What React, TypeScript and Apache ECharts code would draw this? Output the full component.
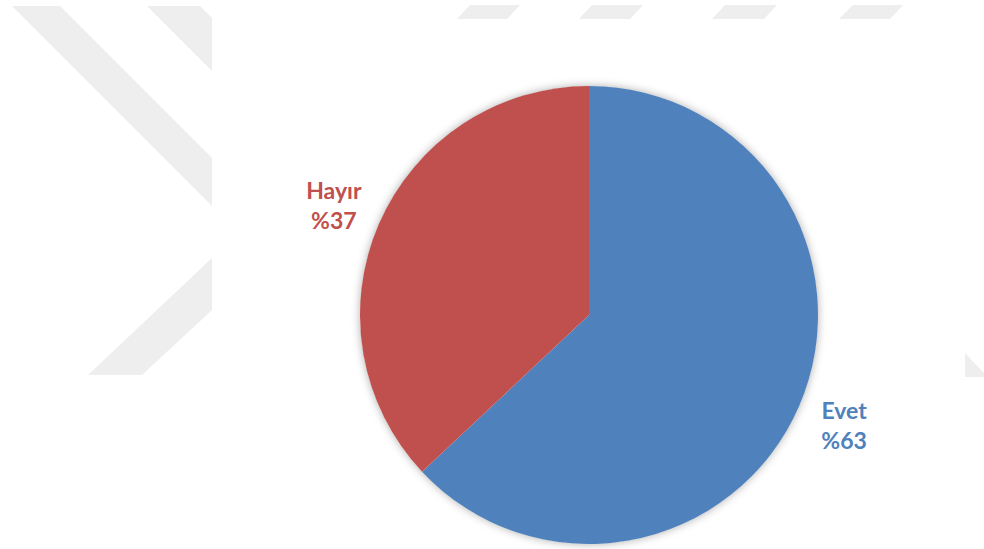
import React, { useEffect, useRef } from "react";
import * as echarts from "echarts";

const categories = ["Evet", "Hayır"];
const values = [63, 37];
const percentLabels = ["%63", "%37"];
const colors = ["#4F81BD", "#C0504D"];

const CX = 589;
const CY = 315;
const R = 229;
const LABEL_R = 278;

const WM = "#eeeeee";
const watermark: number[][][] = [
  [[12, 6], [60, 6], [212, 158], [212, 206]],
  [[147, 6], [200, 6], [212, 18], [212, 71]],
  [[88, 375], [142, 375], [212, 310], [212, 258]],
  [[470, 5], [520, 5], [507, 19], [457, 19]],
  [[592, 5], [643, 5], [630, 19], [579, 19]],
  [[725, 5], [777, 5], [764, 19], [712, 19]],
  [[853, 5], [903, 5], [890, 19], [839, 19]],
  [[965, 353], [984, 373], [984, 377], [965, 377]],
];

function labelPos(idx: number) {
  const total = values.reduce((a, b) => a + b, 0);
  let before = 0;
  for (let i = 0; i < idx; i++) before += values[i];
  const midFrac = (before + values[idx] / 2) / total;
  const ang = (90 - midFrac * 360) * (Math.PI / 180);
  return { x: CX + LABEL_R * Math.cos(ang), y: CY - LABEL_R * Math.sin(ang) };
}

export default function App() {
  const ref = useRef<HTMLDivElement>(null);
  useEffect(() => {
    if (!ref.current) return;
    const chart = echarts.init(ref.current, null, { renderer: "svg" });
    const graphics: any[] = watermark.map((pts) => ({
      type: "polygon",
      z: 0,
      silent: true,
      shape: { points: pts },
      style: { fill: WM },
    }));
    graphics.push({
      type: "rect",
      z: 1,
      silent: true,
      shape: { x: 212, y: 19, width: 753, height: 530 },
      style: { fill: "#ffffff" },
    });
    graphics.push({
      type: "circle",
      z: 1,
      silent: true,
      shape: { cx: CX, cy: CY, r: R - 0.5 },
      style: { fill: "#ffffff", shadowBlur: 10, shadowColor: "rgba(0,0,0,0.35)" },
    });
    chart.setOption({
      animation: false,
      backgroundColor: "#ffffff",
      graphic: { elements: graphics },
      series: [
        {
          type: "pie",
          z: 5,
          center: [CX, CY],
          radius: R,
          startAngle: 90,
          clockwise: true,
          silent: true,
          itemStyle: { borderWidth: 0 },
          label: {
            show: true,
            position: "outside",
            fontFamily: "Lato, 'Liberation Sans', sans-serif",
            fontWeight: "bold",
            fontSize: 23,
            lineHeight: 30,
            align: "center",
            formatter: (p: any) => `${p.name}\n${percentLabels[p.dataIndex]}`,
          },
          labelLine: { show: false },
          labelLayout: (p: any) => {
            const pos = labelPos(p.dataIndex);
            return { x: pos.x, y: pos.y, align: "center", verticalAlign: "middle" };
          },
          data: categories.map((c, i) => ({
            name: c,
            value: values[i],
            itemStyle: { color: colors[i] },
            label: { color: colors[i] },
          })),
        },
      ],
    });
    return () => chart.dispose();
  }, []);
  return (
    <div
      ref={ref}
      style={{ position: "absolute", left: 0, top: 0, width: 984, height: 549 }}
    />
  );
}
